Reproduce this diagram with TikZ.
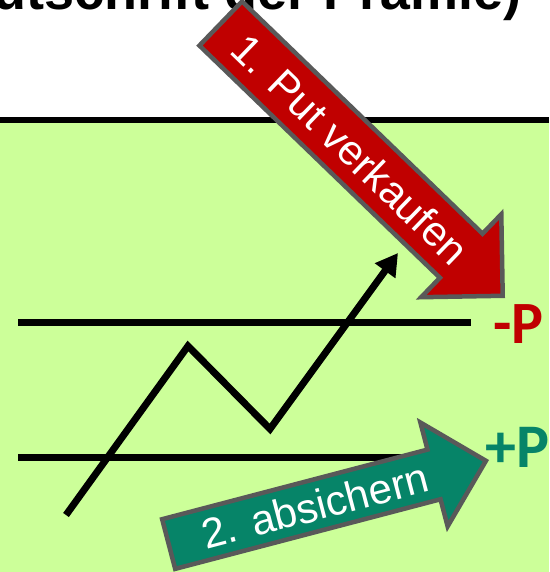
\documentclass[tikz,border=0pt]{standalone}
\usepackage{fontspec}
\setmainfont{Liberation Sans}
\newfontfamily\labelfont{Carlito}
\usetikzlibrary{shapes.arrows, arrows.meta, positioning}
\definecolor{bggreen}{RGB}{204,255,153}
\definecolor{putred}{RGB}{192,0,0}
\definecolor{hedgegreen}{RGB}{6,132,104}
\definecolor{rimgray}{RGB}{89,89,89}

\begin{document}
\begin{tikzpicture}[x=1pt, y=-1pt, >={Triangle[length=22pt, width=24pt]}]
\tikzset{
  level/.style={line width=7pt},
  blockarrow/.style={single arrow, draw=rimgray, line width=4.5pt, single arrow tip angle=90, text=white, inner xsep=6pt, font=\fontsize{42}{42}\selectfont},
  premium/.style={inner sep=0pt, anchor=west},
}
\useasboundingbox (0,0) rectangle (549,572);
\clip (0,0) rectangle (549,572);
% slide background
\fill[bggreen] (0,120) rectangle (549,572);
\draw[line width=6pt] (0,120) -- (549,120);
\node[anchor=base east, inner sep=0pt, font=\fontsize{54}{54}\selectfont\bfseries] (title) at (522,10) {(Gutschrift der Prämie)};
% price levels
\coordinate (short-l) at (18,322);
\coordinate (short-r) at (471,322);
\coordinate (long-l) at (18,457);
\coordinate (long-r) at (471,457);
\draw[level] (short-l) -- (short-r);
\draw[level] (long-l) -- (long-r);
\node[premium, right=22pt of short-r, yshift=-2pt, text=putred, font=\labelfont\bfseries\fontsize{60}{60}\selectfont] (minusP) {-P};
\node[premium, right=14pt of long-r, yshift=10pt, text=hedgegreen, font=\labelfont\bfseries\fontsize{62}{62}\selectfont] (plusP) {+P};
% price path
\coordinate (z0) at (66,515);
\coordinate (z1) at (188,346);
\coordinate (z2) at (270,429);
\coordinate (z3) at (398,253);
\draw[level, ->] (z0) -- (z1) -- (z2) -- (z3);
% steps
\node[blockarrow, fill=putred, rotate=-44, anchor=tip, inner ysep=13pt, single arrow head extend=27pt, minimum height=392pt] (sell) at (505,298) {1. Put verkaufen};
\node[blockarrow, fill=hedgegreen, rotate=14.7, anchor=tip, inner ysep=8pt, single arrow head extend=28pt, minimum height=328pt] (hedge) at (489,460) {2. absichern};
\end{tikzpicture}
\end{document}
